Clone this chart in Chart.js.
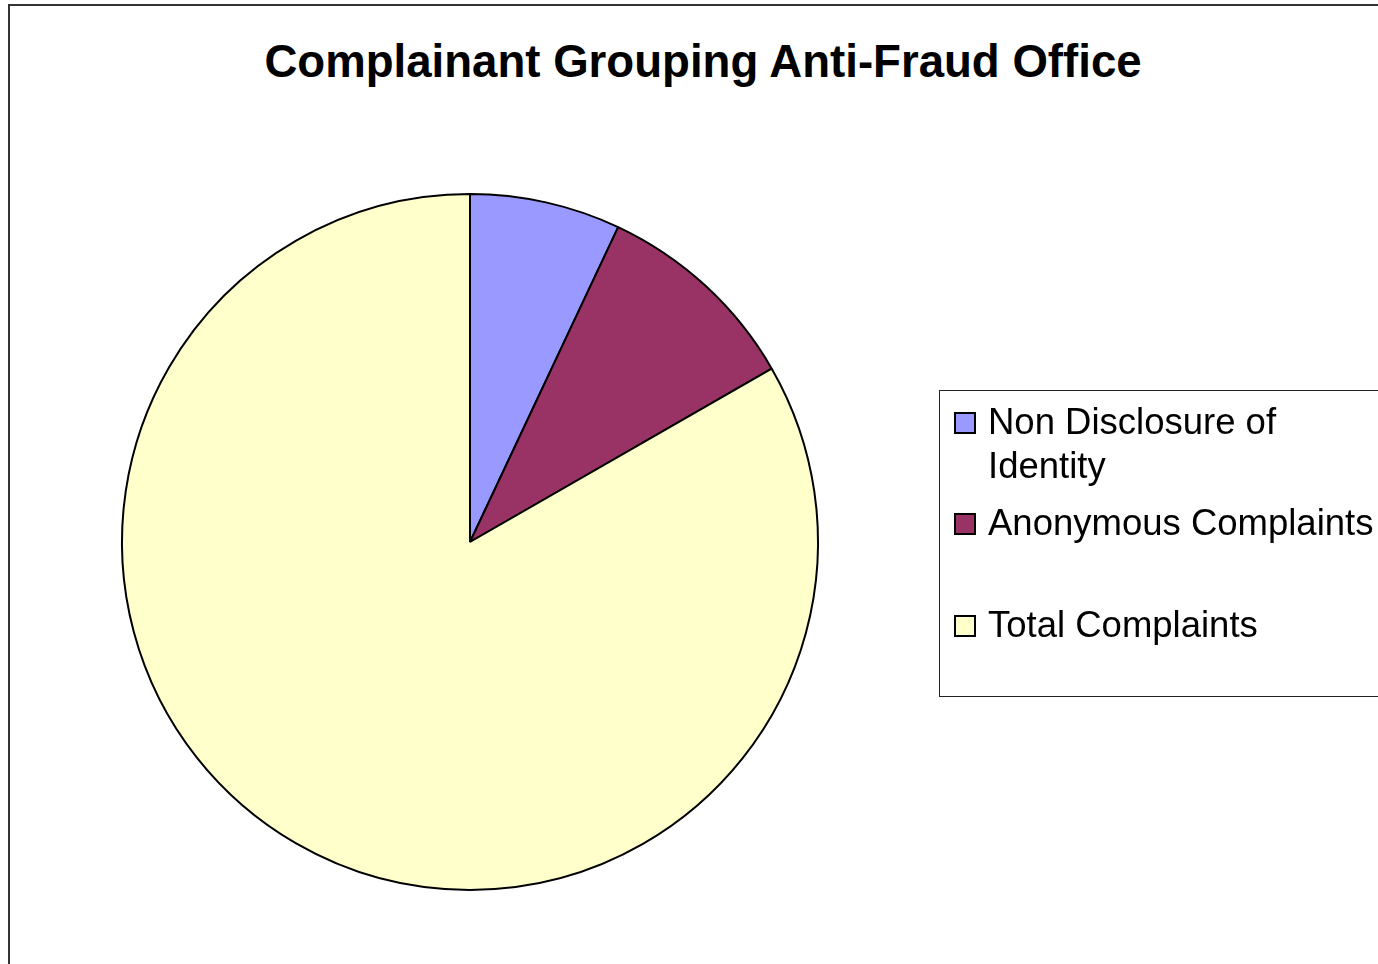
<!DOCTYPE html>
<html>
<head>
<meta charset="utf-8">
<script src="https://cdn.jsdelivr.net/npm/chart.js@4.4.0/dist/chart.umd.min.js"></script>
<style>
    html, body { margin: 0; padding: 0; background: #fff; overflow: hidden; }
    body { width: 1378px; height: 964px; position: relative; font-family: "Liberation Sans", Arial, sans-serif; }
    .frame { position: absolute; left: 8px; top: 4px; width: 1500px; height: 1100px; border-left: 2px solid #333; border-top: 2px solid #333; }
    .chart-title { position: absolute; left: 0; width: 1406px; top: 34px; text-align: center; font-weight: bold; font-size: 45.6px; line-height: 56px; color: #000; }
    .chart-wrap { position: absolute; left: 0; top: 0; width: 1378px; height: 964px; }
    .legend { position: absolute; left: 939px; top: 390px; width: 600px; height: 307px; border: 1px solid #222; box-sizing: border-box; }
    .legend-item { position: absolute; left: 14px; height: 102px; }
    .legend-box { position: absolute; left: 0; top: 12px; width: 18px; height: 18px; border: 2px solid #000; }
    .legend-text { position: absolute; left: 34px; top: 0; width: 398px; font-size: 36.5px; line-height: 44px; color: #000; }
</style>
</head>
<body>
<div class="frame"></div>
<div class="chart-title">Complainant Grouping Anti-Fraud Office</div>
<div class="chart-wrap"><canvas id="pie"></canvas></div>
<div class="legend" id="legend"></div>
<script>
// Categories and shares
const categories = ['Non Disclosure of Identity', 'Anonymous Complaints', 'Total Complaints'];
const shares = [7.0, 9.7, 83.3];
const sliceColors = ['#9999FF', '#993366', '#FFFFCC'];

const chart = new Chart(document.getElementById('pie'), {
    type: 'pie',
    data: {
        labels: categories,
        datasets: [{
            data: shares,
            backgroundColor: sliceColors,
            borderColor: '#000000',
            borderWidth: 2
        }]
    },
    options: {
        responsive: true,
        maintainAspectRatio: false,
        animation: false,
        layout: {
            padding: { left: 121, right: 559, top: 193, bottom: 73 }
        },
        plugins: {
            legend: { display: false },
            title: { display: false },
            tooltip: { enabled: false }
        }
    }
});

// Build the legend box from the same arrays
const legend = document.getElementById('legend');
const slotTops = [9, 110, 212];
categories.forEach((label, i) => {
    const item = document.createElement('div');
    item.className = 'legend-item';
    item.style.top = slotTops[i] + 'px';

    const box = document.createElement('div');
    box.className = 'legend-box';
    box.style.background = sliceColors[i];
    item.appendChild(box);

    const text = document.createElement('div');
    text.className = 'legend-text';
    text.textContent = label;
    item.appendChild(text);

    legend.appendChild(item);
});
</script>
</body>
</html>
